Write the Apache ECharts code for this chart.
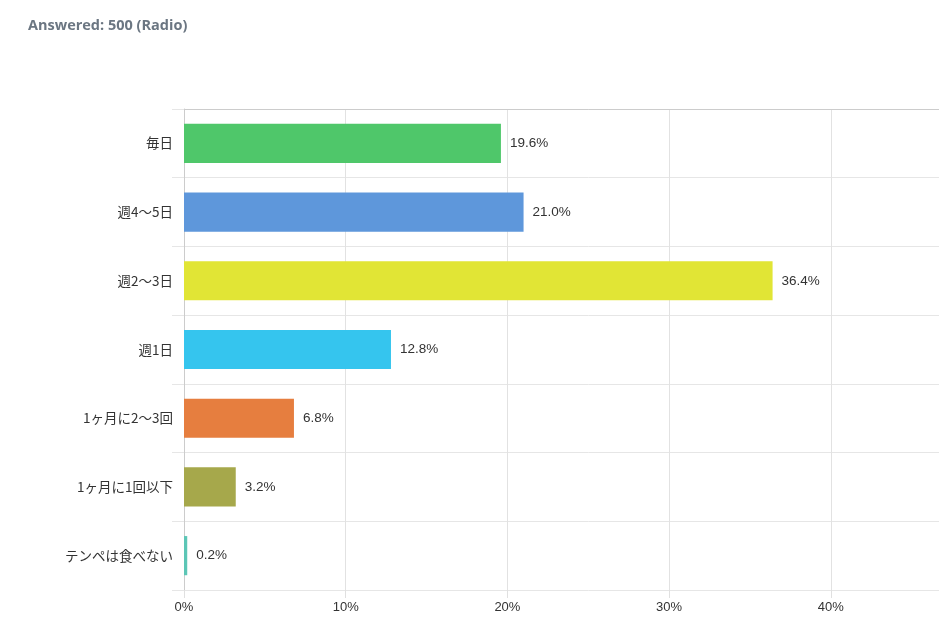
<!DOCTYPE html>
<html><head><meta charset="utf-8">
<script src="https://cdn.jsdelivr.net/npm/echarts@6/dist/echarts.min.js"></script>
<style>html,body{margin:0;padding:0;overflow:hidden;background:#fff;width:939px;height:643px}#c{width:1000px;height:643px}</style>
</head><body><div id="c"></div>
<script>
const categories = ['毎日','週4～5日','週2～3日','週1日','1ヶ月に2～3回','1ヶ月に1回以下','テンペは食べない'];
const values = [19.6, 21.0, 36.4, 12.8, 6.8, 3.2, 0.2];
const colors = ['#4fc76a','#5e97db','#e1e535','#35c5ee','#e67e3f','#a6a84b','#5cc6b6'];
const xTicks = [0,10,20,30,40,50];

const chart = echarts.init(document.getElementById('c'), null, {renderer:'canvas'});
chart.setOption({
  animation:false,
  title:{text:'Answered: 500 (Radio)', left:23, top:13, textStyle:{fontFamily:'Open Sans', fontSize:14.5, fontWeight:'bold', color:'#6b7682'}},
  grid:{left:184, right:7.5, top:109, bottom:53, containLabel:false, outerBoundsMode:'none'},
  xAxis:[{
    type:'value', min:xTicks[0], max:xTicks[xTicks.length-1], interval:10,
    axisLine:{show:false},
    axisTick:{show:true, length:8, lineStyle:{color:'#e0e0e0'}},
    axisLabel:{formatter:v=>v+'%', color:'#333', fontSize:13, fontFamily:'Liberation Sans, Arial', margin:11},
    splitLine:{show:true, lineStyle:{color:'#e2e2e2'}}
  },{
    type:'value', position:'top', min:0, max:50, interval:10,
    axisLine:{show:true, lineStyle:{color:'#cccccc'}}, axisTick:{show:false}, axisLabel:{show:false}, splitLine:{show:false}
  }],
  yAxis:{
    type:'category', data:categories, inverse:true,
    axisLine:{show:true, lineStyle:{color:'#cccccc'}},
    axisTick:{show:true, length:12, lineStyle:{color:'#e6e6e6'}},
    axisLabel:{color:'#333', fontSize:13.5, fontFamily:'Noto Sans CJK JP', margin:11},
    splitLine:{show:true, lineStyle:{color:'#e6e6e6'}}
  },
  series:[{
    type:'bar', xAxisIndex:0, barCategoryGap:'43%',
    data: values.map((v,i)=>({value:v, itemStyle:{color:colors[i]}})),
    label:{show:true, position:'right', distance:9, formatter:p=>p.value.toFixed(1)+'%', color:'#333', fontSize:13.5, fontFamily:'Liberation Sans, Arial'}
  }]
});
</script></body></html>
